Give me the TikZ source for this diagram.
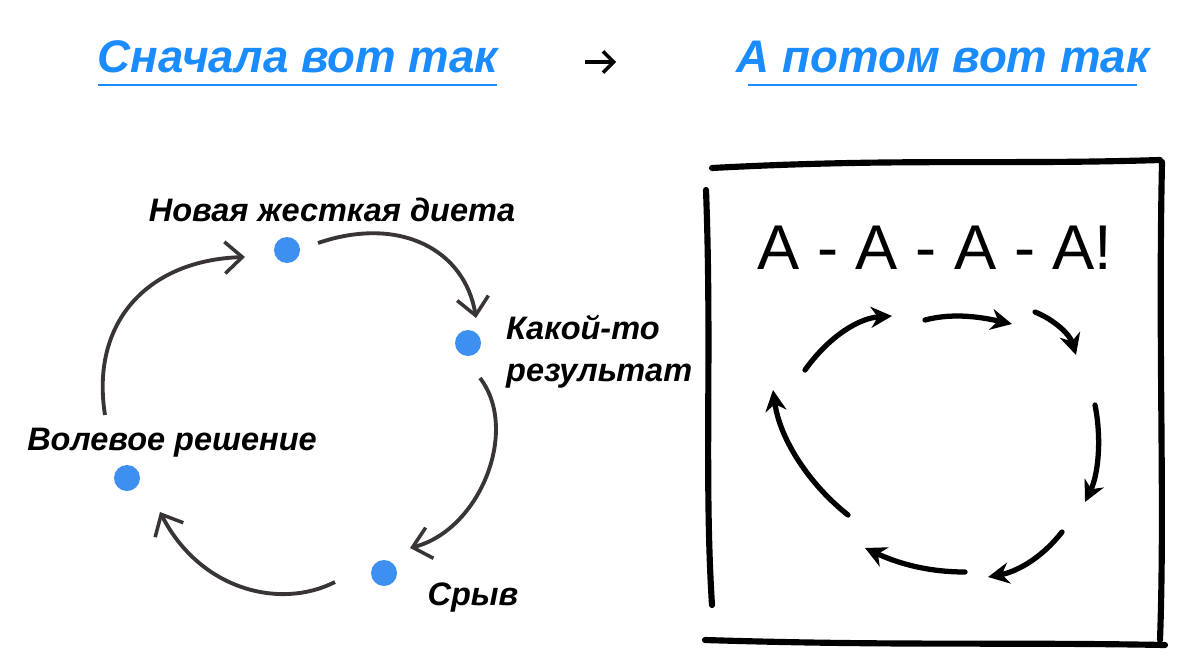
\documentclass[tikz,border=0pt]{standalone}
\usepackage{fontspec}
\setmainfont{Liberation Sans}
\usetikzlibrary{arrows.meta}
\definecolor{tblue}{HTML}{1A8CFF}
\definecolor{dblue}{HTML}{3D8FF0}
\definecolor{arr}{HTML}{3A3535}
\tikzset{
 px/.style={x=0.02cm,y=-0.02cm},
 title/.style={font=\fontsize{26}{30}\selectfont\bfseries\itshape, text=tblue},
 lbl/.style={font=\fontsize{18.5}{24}\selectfont\bfseries\itshape},
 dot/.style={circle, fill=dblue, minimum size=26*0.02cm, inner sep=0pt},
 cyc/.style={arr, line width=2.2pt, -{Straight Barb[length=10pt,width=18pt,line width=2pt]}},
 hand/.style={black, line width=3.5pt, line cap=round},
 harr/.style={black, line width=3pt, line cap=round, -{Stealth[length=12pt,width=12pt]}}
}
\begin{document}
\begin{tikzpicture}[px]
\useasboundingbox (0,0) rectangle (1200,663);
\node[title] (t1) at (298,57) {Сначала вот так};
\draw[tblue, line width=1.5pt] (98,85) -- (497,85);
\draw[black, line width=2.2pt, -{Straight Barb[length=6pt,width=12pt,line width=2pt]}] (585,62) coordinate (ar1) -- (616,62) coordinate (ar2);
\node[title] (t2) at (943,57) {А потом вот так};
\draw[tblue, line width=1.5pt] (748,85) -- (1137,85);

\node[dot] (d1) at (287,250) {};
\node[dot] (d2) at (468,343) {};
\node[dot] (d3) at (127,478) {};
\node[dot] (d4) at (384,573) {};
\node[lbl] (l1) at (332,210) {Новая жесткая диета};
\node[lbl, align=left, anchor=west] (l2) at (500,352) {Какой-то\\результат};
\node[lbl] (l3) at (172,443) {Волевое решение};
\node[lbl] (l4) at (473,598) {Срыв};

\coordinate (a1s) at (318,243); \coordinate (a1e) at (476,318);
\coordinate (a2s) at (480,378); \coordinate (a2e) at (410,548);
\coordinate (a3s) at (335,582); \coordinate (a3e) at (160,512);
\coordinate (a4s) at (105,415); \coordinate (a4e) at (245,257);
\draw[cyc] (a1s) .. controls (400,215) and (465,250) .. (a1e);
\draw[cyc] (a2s) .. controls (520,430) and (480,530) .. (a2e);
\draw[cyc] (a3s) .. controls (280,610) and (200,590) .. (a3e);
\draw[cyc] (a4s) .. controls (90,320) and (150,260) .. (a4e);

\draw[hand] (712,168) .. controls (900,158) and (1000,165) .. (1160,160);
\draw[hand] (706,190) .. controls (712,350) and (704,480) .. (712,605);
\draw[hand] (1162,162) .. controls (1158,350) and (1165,500) .. (1160,640);
\draw[hand] (705,640) .. controls (900,646) and (1000,642) .. (1165,645);
\node[font=\fontsize{36}{40}\selectfont] (aa) at (935,248) {A - A - A - A!};

\draw[harr] (805,370) .. controls (830,335) and (860,318) .. (892,316);
\draw[harr] (925,320) .. controls (955,312) and (985,318) .. (1012,324);
\draw[harr] (1035,312) .. controls (1055,320) and (1070,335) .. (1076,355);
\draw[harr] (1095,405) .. controls (1102,440) and (1098,475) .. (1085,502);
\draw[harr] (1062,532) .. controls (1040,560) and (1015,572) .. (988,577);
\draw[harr] (965,572) .. controls (925,572) and (895,562) .. (865,548);
\draw[harr] (848,515) .. controls (810,485) and (780,440) .. (773,390);
\end{tikzpicture}
\end{document}
